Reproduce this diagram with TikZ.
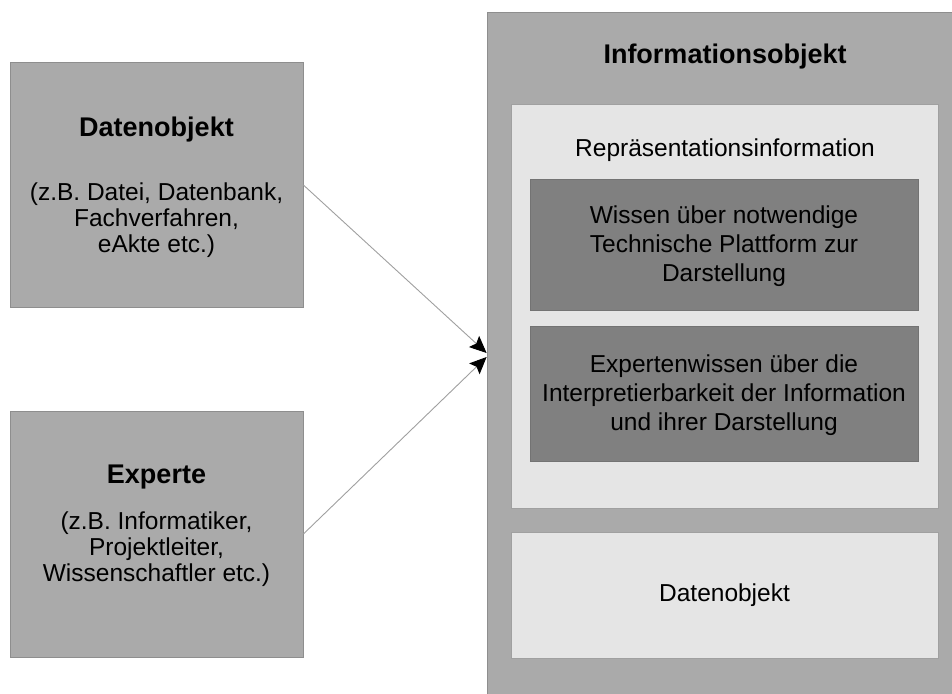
\documentclass[tikz,border=0pt]{standalone}
\usepackage{fontspec}
\setmainfont{Liberation Sans}
\usetikzlibrary{arrows.meta}
\definecolor{midgray}{HTML}{AAAAAA}
\definecolor{lightgray2}{HTML}{E5E5E5}
\definecolor{darkgray2}{HTML}{808080}
\definecolor{edgegray}{HTML}{8E8E8E}
\definecolor{linegray}{HTML}{A0A0A0}
\tikzset{
  box/.style={rectangle, draw=edgegray, line width=0.8pt, inner sep=0pt},
  outerbox/.style={box, fill=midgray},
  lightbox/.style={box, fill=lightgray2, draw=linegray},
  darkbox/.style={box, fill=darkgray2, draw=darkgray2!90!black},
  lbl/.style={inner sep=0pt, align=center, font=\fontsize{24.5}{26}\selectfont},
  lblr/.style={inner sep=0pt, align=center, font=\fontsize{24.5}{29}\selectfont},
  ttl/.style={inner sep=0pt, align=center, font=\fontsize{27}{30}\selectfont\bfseries},
  conn/.style={draw=linegray, line width=0.9pt, -{Stealth[length=17pt,width=15pt,inset=3pt,color=black]}}
}
\begin{document}
\begin{tikzpicture}[x=1pt,y=-1pt]
\useasboundingbox (0,0) rectangle (952,693);
\fill[white] (0,0) rectangle (952,693);
% left boxes
\node[outerbox, minimum width=293pt, minimum height=245pt] (dobj) at (156.5,185) {};
\node[ttl] (dobjt) at (156.5,130) {Datenobjekt};
\node[lbl] (dobjb) at (156.5,220) {(z.B. Datei, Datenbank,\\Fachverfahren,\\eAkte etc.)};
\node[outerbox, minimum width=293pt, minimum height=246pt] (exp) at (156.5,534) {};
\node[ttl] (expt) at (156.5,477) {Experte};
\node[lbl] (expb) at (156.5,549) {(z.B. Informatiker,\\Projektleiter,\\Wissenschaftler etc.)};
% right big box
\node[outerbox, minimum width=465pt, minimum height=690pt] (info) at (719.5,357) {};
\node[ttl] (infot) at (725,57) {Informationsobjekt};
\node[lightbox, minimum width=427pt, minimum height=404pt] (rep) at (724.5,306) {};
\node[lblr] (rept) at (725,150) {Repräsentationsinformation};
\node[darkbox, minimum width=388pt, minimum height=131pt] (w1) at (724,244.5) {};
\node[lblr] (w1t) at (724,246) {Wissen über notwendige\\Technische Plattform zur\\Darstellung};
\node[darkbox, minimum width=388pt, minimum height=135pt] (w2) at (724,393.5) {};
\node[lblr] (w2t) at (724,395) {Expertenwissen über die\\Interpretierbarkeit der Information\\und ihrer Darstellung};
\node[lightbox, minimum width=427pt, minimum height=126pt] (dat) at (724.5,595) {};
\node[lblr] (datt) at (724.5,595) {Datenobjekt};
% connectors
\coordinate (tipa) at (info.west |- 0,353);
\coordinate (tipb) at (info.west |- 0,357);
\draw[conn] (dobj.east) -- (tipa);
\draw[conn] (exp.east) -- (tipb);
\end{tikzpicture}
\end{document}
